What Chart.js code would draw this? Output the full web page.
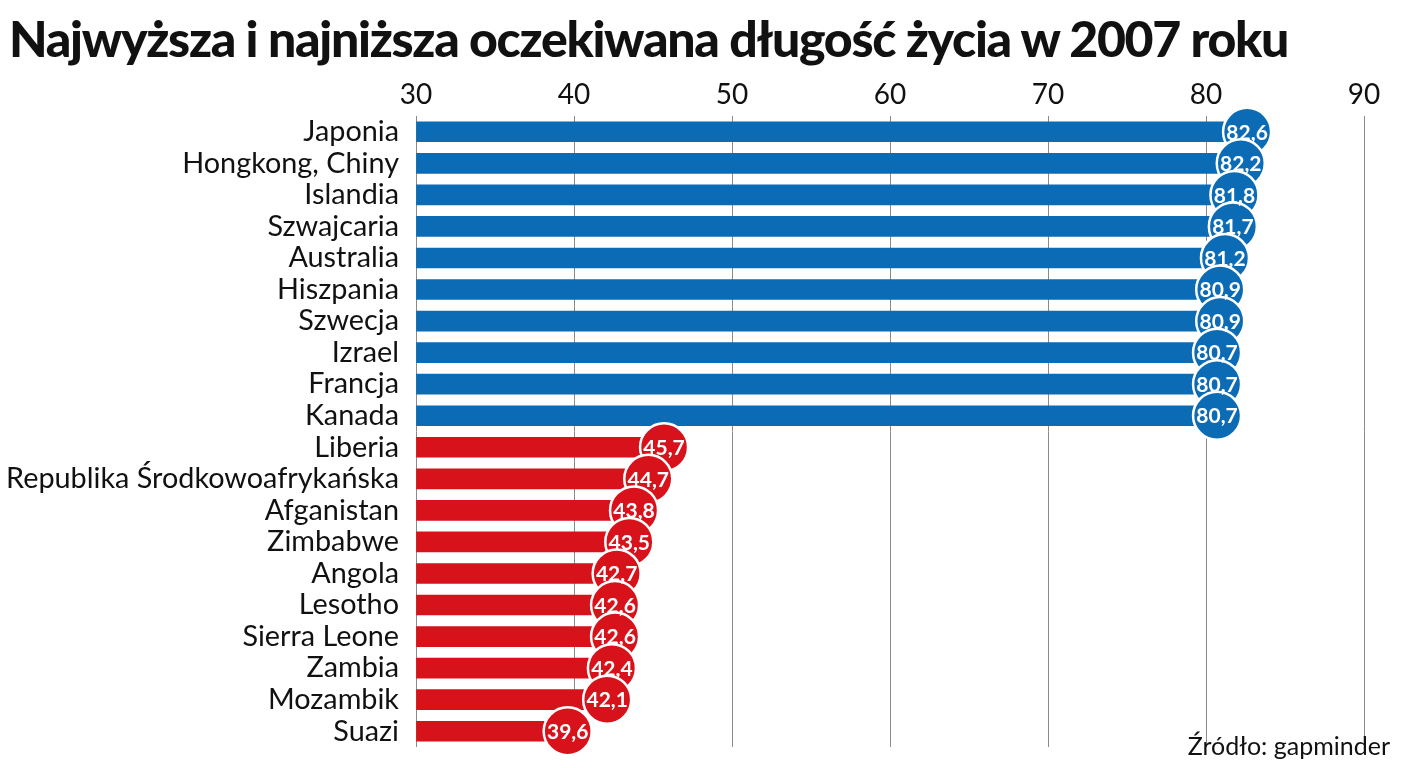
<!DOCTYPE html>
<html>
<head>
<meta charset="utf-8">
<script src="https://cdn.jsdelivr.net/npm/chart.js@4"></script>
<style>
  html, body { margin: 0; padding: 0; background: #fff; width: 1408px; height: 768px; overflow: hidden; }
  #title { position: absolute; left: 9px; top: 8px; font-family: 'Lato'; font-weight: 900; font-size: 50px; color: #111; white-space: nowrap; letter-spacing: -1.3px; }
  #source { position: absolute; right: 18px; top: 730px; font-family: 'Lato'; font-size: 25px; color: #111; white-space: nowrap; }
  #wrap { position: absolute; left: 0; top: 0; width: 1408px; height: 768px; }
  #c { display: block; }
</style>
</head>
<body>
<div id="title">Najwyższa i najniższa oczekiwana długość życia w 2007 roku</div>
<div id="wrap"><canvas id="c"></canvas></div>
<div id="source">Źródło: gapminder</div>
<script>
const countries = ["Japonia","Hongkong, Chiny","Islandia","Szwajcaria","Australia","Hiszpania","Szwecja","Izrael","Francja","Kanada",
  "Liberia","Republika Środkowoafrykańska","Afganistan","Zimbabwe","Angola","Lesotho","Sierra Leone","Zambia","Mozambik","Suazi"];
const lifeExpectancy = [82.6,82.2,81.8,81.7,81.2,80.9,80.9,80.7,80.7,80.7,
  45.7,44.7,43.8,43.5,42.7,42.6,42.6,42.4,42.1,39.6];
const group = ["high","high","high","high","high","high","high","high","high","high",
  "low","low","low","low","low","low","low","low","low","low"];
const xTicks = [30,40,50,60,70,80,90];

const BLUE = '#0b6bb4', RED = '#d7121b';
const colors = group.map(g => g === 'high' ? BLUE : RED);

const labelPlugin = {
  id: 'bubbleLabels',
  afterDatasetsDraw(chart) {
    const meta = chart.getDatasetMeta(1);
    const ctx = chart.ctx;
    ctx.save();
    ctx.font = "bold 21px 'Lato'";
    ctx.fillStyle = '#fff';
    ctx.textAlign = 'center';
    ctx.textBaseline = 'middle';
    meta.data.forEach((pt, i) => {
      ctx.fillText(lifeExpectancy[i].toFixed(1).replace('.', ','), pt.x, pt.y + 1);
    });
    ctx.restore();
  }
};

new Chart(document.getElementById('c'), {
  type: 'bar',
  data: {
    labels: countries,
    datasets: [
      {
        type: 'bar',
        indexAxis: 'y',
        data: lifeExpectancy,
        base: 30,
        backgroundColor: colors,
        barThickness: 20,
        order: 1
      },
      {
        type: 'line',
        indexAxis: 'y',
        data: lifeExpectancy,
        showLine: false,
        pointRadius: 24,
        pointBorderWidth: 2.5,
        pointBorderColor: '#fff',
        pointBackgroundColor: colors,
        clip: false,
        order: 0
      }
    ]
  },
  options: {
    indexAxis: 'y',
    responsive: true,
    maintainAspectRatio: false,
    animation: false,
    events: [],
    layout: { autoPadding: false, padding: { left: 0, right: 44, top: 60, bottom: 21 } },
    plugins: { legend: { display: false }, tooltip: { enabled: false } },
    scales: {
      x: {
        position: 'top',
        min: 30, max: 90,
        afterBuildTicks(scale) { scale.ticks = xTicks.map(v => ({ value: v })); },
        afterFit(scale) { scale.height = 56; scale.paddingLeft = 0; scale.paddingRight = 0; },
        ticks: { font: { family: 'Lato', size: 28 }, color: '#111', padding: 4 },
        grid: { color: '#8a8a8a', lineWidth: 1, drawTicks: false },
        border: { display: false }
      },
      y: {
        afterFit(scale) { scale.width = 416; scale.paddingTop = 0; scale.paddingBottom = 0; },
        ticks: { font: { family: 'Lato', size: 28.8 }, color: '#111', padding: 9, autoSkip: false },
        grid: { display: false },
        border: { display: false }
      }
    }
  },
  plugins: [labelPlugin]
});
</script>
</body>
</html>
